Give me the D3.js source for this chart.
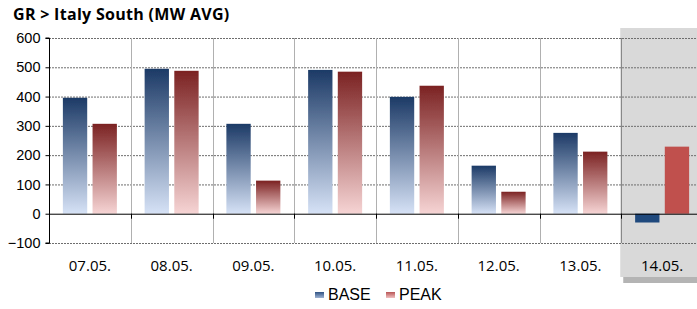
<!DOCTYPE html>
<html>
<head>
<meta charset="utf-8">
<script src="https://cdn.jsdelivr.net/npm/d3@7"></script>
<style>
  body { margin: 0; background: #fff; }
  svg { display: block; }
</style>
</head>
<body>
<svg id="chart" width="697" height="309"></svg>
<script>
const days = ["07.05.", "08.05.", "09.05.", "10.05.", "11.05.", "12.05.", "13.05.", "14.05."];
const base = [396, 495, 307, 491, 399, 164, 276, -30];
const peak = [307, 488, 113, 485, 437, 75, 212, 229];
const yTicks = [-100, 0, 100, 200, 300, 400, 500, 600];
const highlightDay = "14.05.";

const svg = d3.select("#chart");
const plotLeft = 49, plotRight = 703, plotTop = 38, plotBottom = 243;

const x = d3.scaleBand().domain(days).range([plotLeft, plotRight]);
const y = d3.scaleLinear().domain([-100, 600]).range([plotBottom, plotTop]);
const inner = d3.scaleBand().domain(["BASE", "PEAK"]).range([0, 54]).paddingInner(0.18);

const defs = svg.append("defs");
function grad(id, c1, c2) {
  const g = defs.append("linearGradient").attr("id", id).attr("x1", 0).attr("y1", 0).attr("x2", 0).attr("y2", 1);
  g.append("stop").attr("offset", "0%").attr("stop-color", c1);
  g.append("stop").attr("offset", "100%").attr("stop-color", c2);
}
grad("gBase", "#1c3a66", "#d6e2f6");
grad("gPeak", "#7b2222", "#f6d4d4");
grad("lBase", "#2f5283", "#9fb3d3");
grad("lPeak", "#b85555", "#f0c0c0");
defs.append("filter").attr("id", "soft").append("feGaussianBlur").attr("stdDeviation", 0.6);

// title
svg.append("text").attr("x", 13).attr("y", 20)
  .style("font-family", "Open Sans, sans-serif").style("font-weight", "bold").style("font-size", "16px")
  .style("letter-spacing", "0.3px")
  .text("GR > Italy South (MW AVG)");

// highlight column
const hx = x(highlightDay);
svg.append("rect").attr("x", hx + 2).attr("y", 277).attr("width", 120).attr("height", 6).attr("fill", "#b4b4b4");
svg.append("rect").attr("x", hx - 1).attr("y", 28).attr("width", 120).attr("height", 249).attr("fill", "#d9d9d9");

// horizontal grid
svg.append("g").selectAll("line").data(yTicks.filter(d => d !== 0)).enter().append("line")
  .attr("x1", plotLeft).attr("x2", plotRight)
  .attr("y1", d => y(d) + 0.5).attr("y2", d => y(d) + 0.5)
  .attr("stroke", "#6e6e6e").attr("stroke-dasharray", "2,1");

// vertical grid
svg.append("g").selectAll("line").data(days.slice(1)).enter().append("line")
  .attr("x1", d => Math.round(x(d)) + 0.5).attr("x2", d => Math.round(x(d)) + 0.5)
  .attr("y1", plotTop).attr("y2", plotBottom)
  .attr("stroke", d => d === highlightDay ? "#888" : "#b0b0b0");

// bars
const groups = svg.append("g").selectAll("g").data(days).enter().append("g")
  .attr("transform", d => `translate(${x(d) + (x.bandwidth() - 54) / 2},0)`);

groups.append("rect")
  .attr("x", inner("BASE")).attr("width", inner.bandwidth())
  .attr("y", (d, i) => y(Math.max(0, base[i])))
  .attr("height", (d, i) => Math.abs(y(base[i]) - y(0)))
  .attr("fill", d => d === highlightDay ? "#1f497d" : "url(#gBase)")
  .attr("filter", d => d === highlightDay ? null : "url(#soft)");

groups.append("rect")
  .attr("x", inner("PEAK")).attr("width", inner.bandwidth())
  .attr("y", (d, i) => y(Math.max(0, peak[i])))
  .attr("height", (d, i) => Math.abs(y(peak[i]) - y(0)))
  .attr("fill", d => d === highlightDay ? "#c0504d" : "url(#gPeak)")
  .attr("filter", d => d === highlightDay ? null : "url(#soft)");

// zero line with ticks
svg.append("line").attr("x1", plotLeft).attr("x2", plotRight).attr("y1", y(0) + 0.5).attr("y2", y(0) + 0.5).attr("stroke", "#000");
svg.append("g").selectAll("line").data(days.slice(1)).enter().append("line")
  .attr("x1", d => Math.round(x(d)) + 0.5).attr("x2", d => Math.round(x(d)) + 0.5)
  .attr("y1", y(0)).attr("y2", y(0) + 5).attr("stroke", "#000");

// y axis
const yAxis = svg.append("g").attr("transform", `translate(${plotLeft + 0.5},0)`)
  .call(d3.axisLeft(y).tickValues(yTicks).tickSize(4).tickFormat(d3.format("d")));
yAxis.select(".domain").attr("stroke", "#000").attr("d", `M-4,${plotTop}H0V${plotBottom}H-4`);
yAxis.selectAll("text").style("font-family", "Liberation Sans, Arial, sans-serif").style("font-size", "14.5px").attr("fill", "#000").attr("x", -9);

// x labels
svg.append("g").selectAll("text").data(days).enter().append("text")
  .attr("x", d => x(d) + x.bandwidth() / 2).attr("y", 271)
  .attr("text-anchor", "middle")
  .style("font-family", "Open Sans, sans-serif").style("font-size", "15px")
  .text(d => d);

// legend
const legend = [{ name: "BASE", fill: "url(#lBase)", x: 315 }, { name: "PEAK", fill: "url(#lPeak)", x: 386 }];
const lg = svg.append("g").selectAll("g").data(legend).enter().append("g");
lg.append("rect").attr("x", d => d.x).attr("y", 292).attr("width", 9).attr("height", 6).attr("fill", d => d.fill);
lg.append("text").attr("x", d => d.x + 13).attr("y", 300)
  .style("font-family", "Liberation Sans, Arial, sans-serif").style("font-size", "16px")
  .text(d => d.name);
</script>
</body>
</html>
